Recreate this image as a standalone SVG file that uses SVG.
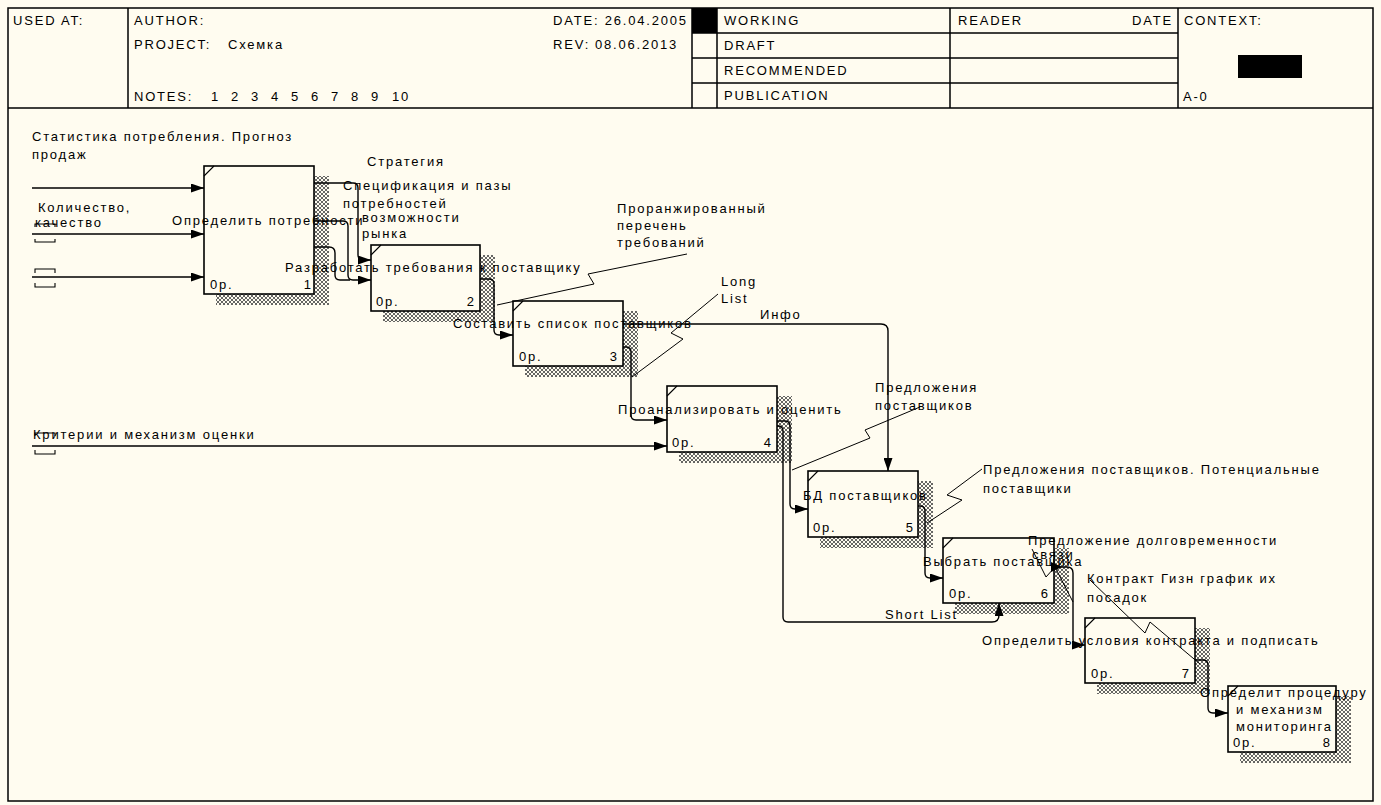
<svg xmlns="http://www.w3.org/2000/svg" width="1381" height="805" viewBox="0 0 1381 805">
<defs>
<style>
.t{font-family:"Liberation Sans",Arial,sans-serif;font-size:13px;letter-spacing:1.8px;fill:#000}
.n{font-family:"Liberation Sans",Arial,sans-serif;font-size:13px;fill:#000}
.fr{fill:none;stroke:#000;stroke-width:1.5}
.box{fill:#FFFCF0;stroke:#000;stroke-width:1.6}
.sh{fill:url(#hatch)}
.c{fill:none;stroke:#000;stroke-width:1.4}
.sq{fill:none;stroke:#000;stroke-width:1}
.cn{fill:none;stroke:#000;stroke-width:1.1}
</style>
<pattern id="hatch" width="4" height="4" patternUnits="userSpaceOnUse">
<rect width="4" height="4" fill="#FFFCF0"/>
<path d="M0,0L4,4M4,0L0,4" stroke="#555" stroke-width="0.9"/>
</pattern>
<marker id="ah" markerWidth="13" markerHeight="9" refX="13" refY="4.5" orient="auto" markerUnits="userSpaceOnUse"><path d="M0,0L13,4.5L0,9z" fill="#000"/></marker>
</defs>
<rect x="0" y="0" width="1381" height="805" fill="#FFFCF0"/>
<g id="frame">
<rect class="fr" x="8" y="8" width="1365" height="793"/>
<path class="fr" d="M8,108H1373M128,8V108M692,8V108M717,8V108M950,8V108M1178,8V108M692,33H1178M692,58H1178M692,83H1178"/>
<rect x="692" y="8" width="25" height="25" fill="#000"/>
<rect x="1238" y="55" width="64" height="23" fill="#000"/>
<text class="t" x="13" y="25">USED AT:</text>
<text class="t" x="134" y="25">AUTHOR:</text>
<text class="t" x="134" y="49">PROJECT:</text>
<text class="t" x="228" y="49">Схемка</text>
<text class="t" x="134" y="101">NOTES:</text>
<text class="t" y="101"><tspan x="211">1</tspan><tspan x="231">2</tspan><tspan x="251">3</tspan><tspan x="271">4</tspan><tspan x="291">5</tspan><tspan x="311">6</tspan><tspan x="331">7</tspan><tspan x="351">8</tspan><tspan x="371">9</tspan><tspan x="392">10</tspan></text>
<text class="t" x="553" y="25">DATE: 26.04.2005</text>
<text class="t" x="553" y="49">REV:</text>
<text class="t" x="595" y="49">08.06.2013</text>
<text class="t" x="724" y="25">WORKING</text>
<text class="t" x="724" y="50">DRAFT</text>
<text class="t" x="724" y="75">RECOMMENDED</text>
<text class="t" x="724" y="100">PUBLICATION</text>
<text class="t" x="958" y="25">READER</text>
<text class="n" x="1173" y="25" text-anchor="end" letter-spacing="1.8">DATE</text>
<text class="t" x="1184" y="25">CONTEXT:</text>
<text class="t" x="1183" y="101">A-0</text>
</g>
<g id="shadows">
<rect class="sh" x="216" y="176" width="113" height="129"/>
<rect class="sh" x="383" y="255" width="112" height="67"/>
<rect class="sh" x="525" y="311" width="113" height="66"/>
<rect class="sh" x="679" y="396" width="113" height="67"/>
<rect class="sh" x="820" y="481" width="113" height="67"/>
<rect class="sh" x="955" y="548" width="114" height="66"/>
<rect class="sh" x="1097" y="628" width="113" height="66"/>
<rect class="sh" x="1240" y="696" width="111" height="67"/>
</g>
<g id="node-1">
<rect class="box" x="204" y="166" width="110" height="128"/>
<path class="cn" d="M204,176L214,166"/>
<text class="t" x="172" y="225">Определить потребности</text>
<text class="t" x="210" y="289">0р.</text>
<text class="n" x="311" y="289" text-anchor="end">1</text>
</g>
<g id="node-2">
<rect class="box" x="371" y="245" width="109" height="66"/>
<path class="cn" d="M371,255L381,245"/>
<text class="t" x="285" y="272">Разработать требования к поставщику</text>
<text class="t" x="376" y="306">0р.</text>
<text class="n" x="474" y="306" text-anchor="end">2</text>
</g>
<g id="node-3">
<rect class="box" x="513" y="301" width="110" height="65"/>
<path class="cn" d="M513,311L523,301"/>
<text class="t" x="453" y="328">Составить список поставщиков</text>
<text class="t" x="519" y="361">0р.</text>
<text class="n" x="617" y="361" text-anchor="end">3</text>
</g>
<g id="node-4">
<rect class="box" x="667" y="386" width="110" height="66"/>
<path class="cn" d="M667,396L677,386"/>
<text class="t" x="618" y="414">Проанализировать и оценить</text>
<text class="t" x="672" y="447">0р.</text>
<text class="n" x="771" y="447" text-anchor="end">4</text>
</g>
<g id="node-5">
<rect class="box" x="808" y="471" width="110" height="66"/>
<path class="cn" d="M808,481L818,471"/>
<text class="t" x="803" y="500">БД поставщиков</text>
<text class="t" x="813" y="532">0р.</text>
<text class="n" x="913" y="532" text-anchor="end">5</text>
</g>
<g id="node-6">
<rect class="box" x="943" y="538" width="111" height="65"/>
<path class="cn" d="M943,548L953,538"/>
<text class="t" x="923" y="566">Выбрать поставщика</text>
<text class="t" x="949" y="598">0р.</text>
<text class="n" x="1048" y="598" text-anchor="end">6</text>
</g>
<g id="node-7">
<rect class="box" x="1085" y="618" width="110" height="65"/>
<path class="cn" d="M1085,628L1095,618"/>
<text class="t" x="982" y="645">Определить условия контракта и подписать</text>
<text class="t" x="1091" y="678">0р.</text>
<text class="n" x="1189" y="678" text-anchor="end">7</text>
</g>
<g id="node-8">
<rect class="box" x="1228" y="686" width="108" height="66"/>
<path class="cn" d="M1228,696L1238,686"/>
<text class="t" x="1200" y="697">Определит процедуру</text>
<text class="t" x="1236" y="714">и механизм</text>
<text class="t" x="1236" y="731">мониторинга</text>
<text class="t" x="1233" y="747">0р.</text>
<text class="n" x="1330" y="747" text-anchor="end">8</text>
</g>
<g id="connectors">
<path class="c" d="M32,188H204" marker-end="url(#ah)"/>
<path class="c" d="M32,234H204" marker-end="url(#ah)"/>
<path class="c" d="M32,277H204" marker-end="url(#ah)"/>
<path class="c" d="M32,446H667" marker-end="url(#ah)"/>
<path class="cn" d="M35,227V224H55V227M35,239V242H55V239M35,273V269H55V273M35,283V287H55V283M35,436V433H55V436M35,450V454H55V450"/>
<path class="c" d="M314,183H353Q358,183 358,188V255Q358,260 363,260H371" marker-end="url(#ah)"/>
<path class="c" d="M314,221H343Q348,221 348,226V275Q348,280 353,280H371" marker-end="url(#ah)"/>
<path class="c" d="M314,247H329Q335,247 335,253V275Q335,280 340,280H350"/>
<path class="c" d="M480,279H489Q494,279 494,284V330Q494,335 499,335H513" marker-end="url(#ah)"/>
<path class="c" d="M623,347H626Q631,347 631,352V415Q631,420 636,420H667" marker-end="url(#ah)"/>
<path class="c" d="M623,324H881Q888,324 888,331V471" marker-end="url(#ah)"/>
<path class="c" d="M777,421H785Q790,421 790,426V504Q790,509 795,509H808" marker-end="url(#ah)"/>
<path class="c" d="M777,426H778Q783,426 783,431V617Q783,622 788,622H992Q999,622 999,615V603" marker-end="url(#ah)"/>
<path class="c" d="M918,506H920Q925,506 925,511V573Q925,578 930,578H943" marker-end="url(#ah)"/>
<path class="c" d="M1054,567H1067Q1073,567 1073,573V640Q1073,645 1078,645H1085" marker-end="url(#ah)"/>
<path class="c" d="M1195,660H1203Q1208,660 1208,665V708Q1208,713 1213,713H1228" marker-end="url(#ah)"/>
<path d="M1051,562L1062,567L1051,572z" fill="#000"/>
<path class="sq" d="M687,254L588,274L594,284L497,305"/>
<path class="sq" d="M718,294L671,333L683,339L632,377"/>
<path class="sq" d="M920,407L865,430L870,438L792,470"/>
<path class="sq" d="M982,469L947,495L962,500L927,523"/>
<path class="sq" d="M1090,580L1145,633L1150,622L1200,664"/>
<path class="sq" d="M1032,549L1046,577L1055,567L1073,602"/>
</g>
<g id="labels">
<text class="t" x="32" y="141">Статистика потребления. Прогноз</text>
<text class="t" x="32" y="159">продаж</text>
<text class="t" x="38" y="212">Количество,</text>
<text class="t" x="35" y="227">качество</text>
<text class="t" x="367" y="166">Стратегия</text>
<text class="t" x="343" y="190">Спецификация и пазы</text>
<text class="t" x="343" y="208">потребностей</text>
<text class="t" x="362" y="222">возможности</text>
<text class="t" x="362" y="238">рынка</text>
<text class="t" x="617" y="213">Проранжированный</text>
<text class="t" x="617" y="230">перечень</text>
<text class="t" x="617" y="247">требований</text>
<text class="t" x="721" y="286">Long</text>
<text class="t" x="721" y="303">List</text>
<text class="t" x="760" y="319">Инфо</text>
<text class="t" x="875" y="392">Предложения</text>
<text class="t" x="875" y="410">поставщиков</text>
<text class="t" x="33" y="439">Критерии и механизм оценки</text>
<text class="t" x="983" y="474">Предложения поставщиков. Потенциальные</text>
<text class="t" x="983" y="493">поставщики</text>
<text class="t" x="1028" y="545">Предложение долговременности</text>
<text class="t" x="1032" y="559">связи</text>
<text class="t" x="1087" y="583">Контракт Гизн график их</text>
<text class="t" x="1087" y="602">посадок</text>
<text class="t" x="885" y="619">Short List</text>
</g>
</svg>
